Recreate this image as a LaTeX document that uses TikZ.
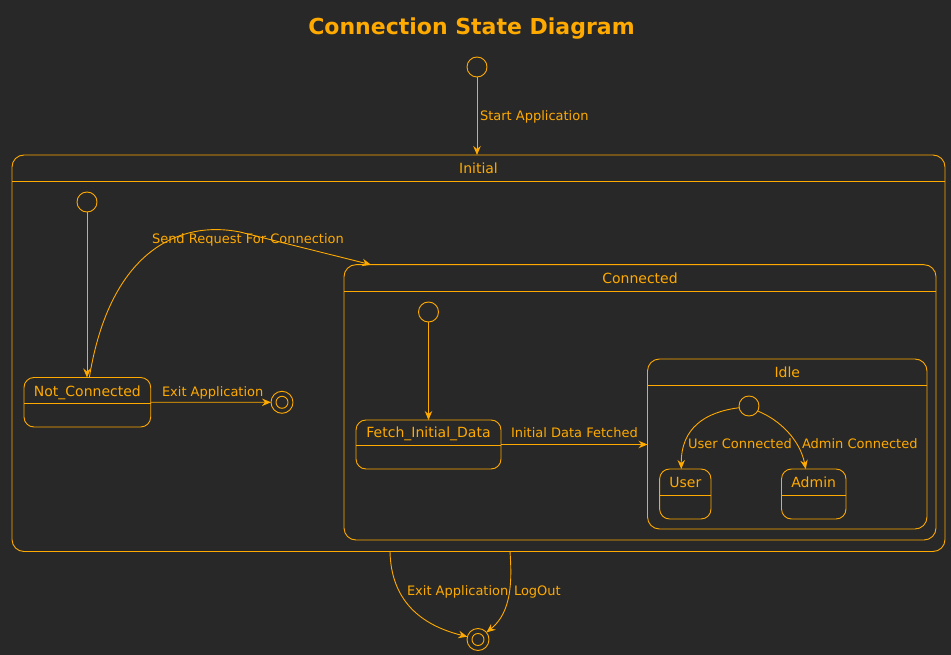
\documentclass[tikz,border=0pt]{standalone}
\usepackage{fontspec}
\setmainfont{DejaVu Sans}
\usetikzlibrary{arrows.meta,fit}
\definecolor{bg}{RGB}{40,40,40}
\definecolor{fg}{RGB}{255,170,0}
\begin{document}
\begin{tikzpicture}[x=1pt,y=-1pt,
  every node/.style={text=fg, font=\fontsize{14}{16}\selectfont, inner sep=0pt, outer sep=0pt},
  ln/.style={draw=fg, line width=0.9pt},
  arr/.style={ln, -{Stealth[length=9pt,width=7.5pt,inset=3pt]}},
  lbl/.style={font=\fontsize{13}{15}\selectfont, anchor=base west},
  sname/.style={anchor=base},
  statebox/.style={draw=fg, line width=0.9pt, rounded corners=#1},
  initc/.style={circle, draw=fg, line width=0.9pt, minimum size=20pt},
  finalc/.style={circle, draw=fg, line width=0.9pt, minimum size=22pt,
    path picture={\draw[fg, line width=0.9pt] (path picture bounding box.center) circle[radius=6pt];}}
]
\fill[bg] (0,0) rectangle (951,655);
\useasboundingbox (0,0) rectangle (951,655);

% title
\node[anchor=base, font=\bfseries\fontsize{22}{26}\selectfont] (title) at (471.5,34.5) {Connection State Diagram};

% top start
\node[initc] (s0) at (477,67) {};

% Initial composite
\node[statebox=12, fit={(12,155) (945,551.5)}] (IN) {};
\draw[ln] (12,181) -- (945,181);
\node[sname] (INt) at (478.5,173.3) {Initial};

\node[initc] (s1) at (87,202) {};

\node[statebox=10, fit={(24,377.5) (150.7,427)}] (NC) {};
\draw[ln] (24,403) -- (150.7,403);
\node[sname] (NCt) at (87.4,396.7) {Not\_Connected};

\node[finalc] (f1) at (282,402.3) {};

% Connected composite
\node[statebox=12, fit={(344,264.7) (936,540)}] (CO) {};
\draw[ln] (344,291) -- (936,291);
\node[sname] (COt) at (640,283.3) {Connected};

\node[initc] (s2) at (428.5,312) {};

\node[statebox=10, fit={(356,420) (501,469)}] (FD) {};
\draw[ln] (356,445) -- (501,445);
\node[sname] (FDt) at (428.5,437.7) {Fetch\_Initial\_Data};

% Idle composite
\node[statebox=12, fit={(647.5,359) (927,529)}] (ID) {};
\draw[ln] (647.5,385.7) -- (927,385.7);
\node[sname] (IDt) at (787.3,377.3) {Idle};

\node[initc] (s3) at (749,406) {};

\node[statebox=10, fit={(659.6,469) (711,519)}] (US) {};
\draw[ln] (659.6,495) -- (711,495);
\node[sname] (USt) at (685.3,487.3) {User};

\node[statebox=10, fit={(781.5,469) (846,519)}] (AD) {};
\draw[ln] (781.5,495) -- (846,495);
\node[sname] (ADt) at (813.7,487.3) {Admin};

% bottom final
\node[finalc] (f0) at (478,639.5) {};

% connectors
\draw[arr] (s0.south) -- (s0.south |- IN.north);
\node[lbl] (l1) at (480,121) {Start Application};

\draw[arr] (s1.south) -- (s1.south |- NC.north);

\draw[arr] ([xshift=2pt]NC.north) .. controls (110,250) and (180,220) .. (240,232) -- ([xshift=27pt]CO.north west);
\node[lbl] (l2) at (152,243.3) {Send Request For Connection};

\draw[arr] (NC.east) -- (f1.west);
\node[lbl] (l3) at (162,396.7) {Exit Application};

\draw[arr] (s2.south) -- (s2.south |- FD.north);

\draw[arr] (FD.east) -- (FD.east -| ID.west);
\node[lbl] (l4) at (511,437.3) {Initial Data Fetched};

\draw[arr] (s3.190) .. controls (705,412) and (681,428) .. ([xshift=-4pt]US.north);
\node[lbl] (l5) at (688,448.7) {User Connected};

\draw[arr] (s3.-30) .. controls (780,420) and (800,440) .. ([xshift=-8pt]AD.north);
\node[lbl] (l6) at (802,448.7) {Admin Connected};

\draw[arr] ([xshift=-88.5pt]IN.south) .. controls (391,600) and (420,625) .. (f0.165);
\node[lbl] (l7) at (407,595) {Exit Application};

\draw[arr] ([xshift=31.5pt]IN.south) .. controls (512,580) and (512,612) .. (f0.40);
\node[lbl] (l8) at (514,595) {LogOut};
\end{tikzpicture}
\end{document}
